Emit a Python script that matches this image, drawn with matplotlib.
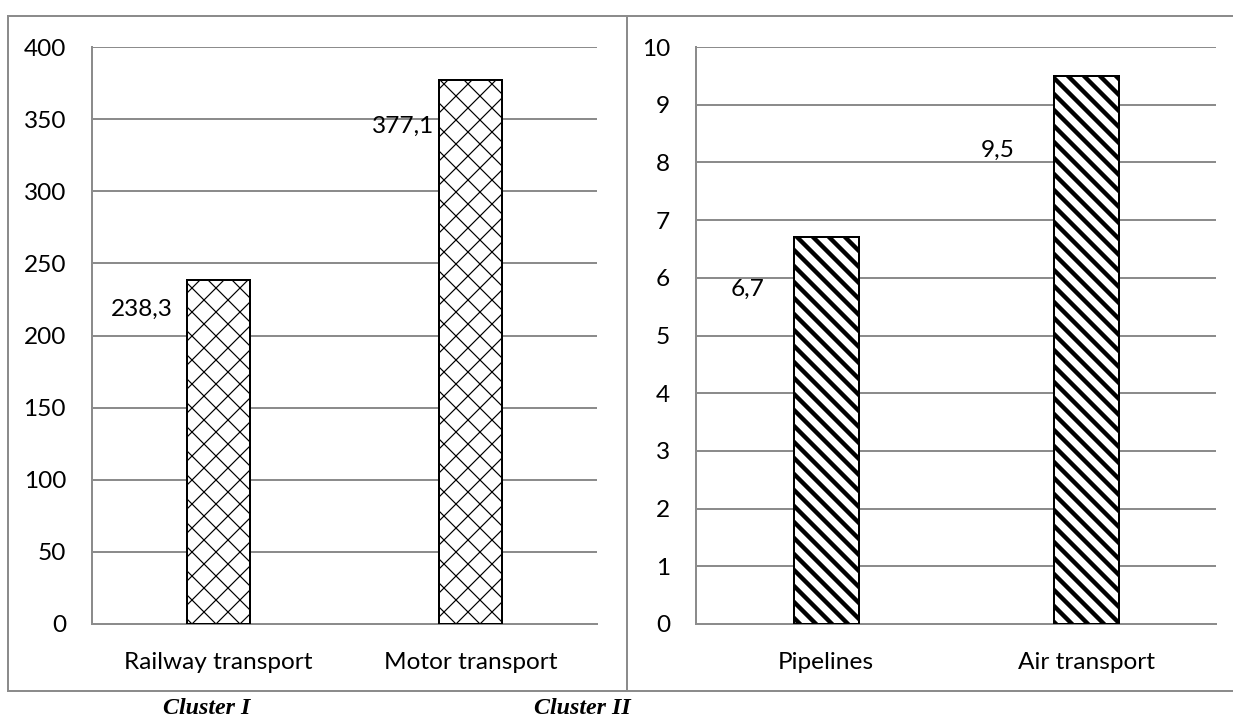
import matplotlib.pyplot as plt
from matplotlib.patches import Rectangle

# data
cluster1_cats = ["Railway transport", "Motor transport"]
cluster1_vals = [238.3, 377.1]
cluster2_cats = ["Pipelines", "Air transport"]
cluster2_vals = [6.7, 9.5]

plt.rcParams['font.family'] = ['Lato', 'DejaVu Sans']
plt.rcParams['font.size'] = 12.2

GRID = '#8c8c8c'

fig = plt.figure(figsize=(1233 / 144, 720 / 144), dpi=144)
W, H = 1233, 720


def px_axes(x0, y0, x1, y1):
    return fig.add_axes([x0 / W, 1 - y1 / H, (x1 - x0) / W, (y1 - y0) / H])


def draw_panel(ax, cats, vals, ymax, step, hatch, hlw, lab_fac, lab_dx):
    x = list(range(len(cats)))
    bars = ax.bar(x, vals, width=0.25, color='white', edgecolor='black',
                  linewidth=1.0, hatch=hatch, zorder=3)
    for b in bars:
        try:
            b.set_hatch_linewidth(hlw)
        except AttributeError:
            plt.rcParams['hatch.linewidth'] = hlw
    ax.set_xlim(-0.5, len(cats) - 0.5)
    ax.set_ylim(0, ymax)
    ax.set_yticks([i * step for i in range(int(round(ymax / step)) + 1)])
    ax.set_xticks(x)
    ax.set_xticklabels(cats)
    ax.yaxis.grid(True, color=GRID, linewidth=1.0, zorder=0)
    ax.set_axisbelow(True)
    for s in ['top', 'right']:
        ax.spines[s].set_visible(False)
    for s in ['left', 'bottom']:
        ax.spines[s].set_color(GRID)
        ax.spines[s].set_linewidth(1.0)
    ax.tick_params(axis='both', length=0)
    ax.tick_params(axis='y', pad=13)
    ax.tick_params(axis='x', pad=14)
    for xi, v, dx in zip(x, vals, lab_dx):
        txt = f"{v:.1f}".replace('.', ',')
        ax.text(xi - 0.125 - dx, v * lab_fac, txt, ha='right', va='center')


ax1 = px_axes(92, 47, 597, 624)
draw_panel(ax1, cluster1_cats, cluster1_vals, 400, 50, 'xx', 0.6, 0.915, [0.055, 0.02])
ax2 = px_axes(696, 47, 1216, 624)
draw_panel(ax2, cluster2_cats, cluster2_vals, 10, 1, '\\\\\\', 2.2, 0.865, [0.11, 0.15])

# panel frames
for x0, x1 in [(8, 627), (627, 1245)]:
    fig.patches.append(Rectangle((x0 / W, 1 - 691 / H), (x1 - x0) / W, (691 - 16) / H,
                                 transform=fig.transFigure, fill=False,
                                 edgecolor=GRID, linewidth=1.0))

cap = dict(family=['Liberation Serif', 'DejaVu Serif'], fontweight='bold',
           fontstyle='italic', fontsize=12, ha='center', va='center')
fig.text(207 / W, 1 - 708 / H, "Cluster I", **cap)
fig.text(582 / W, 1 - 708 / H, "Cluster II", **cap)

fig.savefig("out.png", dpi=144)
